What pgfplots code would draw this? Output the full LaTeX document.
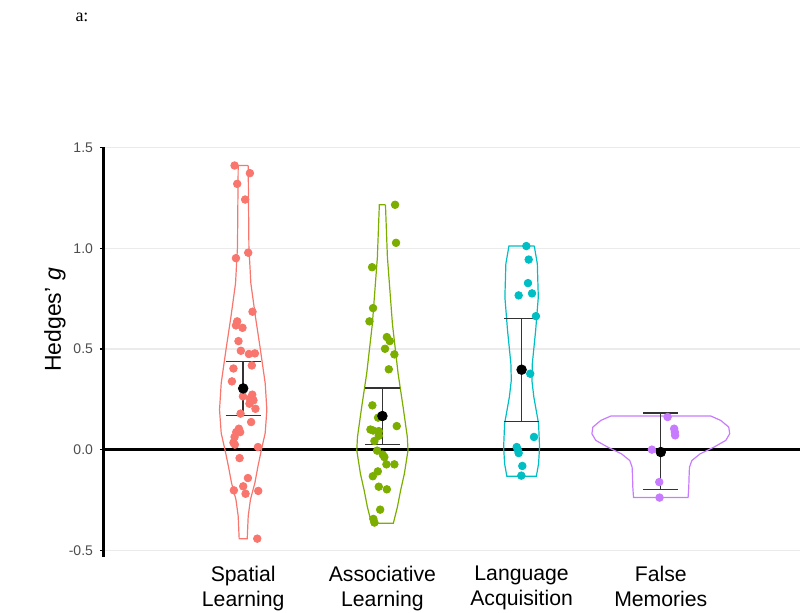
\documentclass[border=0pt]{standalone}
\usepackage{pgfplots}
\pgfplotsset{compat=1.18}
\usepackage{fontspec}
\setmainfont{Liberation Sans}
\newfontfamily\serifa{Liberation Serif}

\definecolor{cR}{HTML}{F8766D}
\definecolor{cG}{HTML}{7CAE00}
\definecolor{cC}{HTML}{00BFC4}
\definecolor{cP}{HTML}{C77CFF}
\definecolor{tickgray}{HTML}{4D4D4D}

\begin{document}
\begin{tikzpicture}
\path[use as bounding box] (-52pt,-28pt) rectangle (348pt,278.5pt);
\begin{axis}[scale only axis, width=348pt, height=205pt,
  xmin=0, xmax=5, ymin=-0.533, ymax=1.503,
  axis x line*=bottom, axis y line*=left,
  x axis line style={draw=none},
  y axis line style={-, line width=1.5pt},
  xtick={1,2,3,4},
  xticklabels={{Spatial\\Learning},{Associative\\Learning},{Language\\Acquisition},{False\\Memories}},
  xticklabel style={align=center, font=\fontsize{10.6}{12.3}\selectfont, yshift=1pt},
  xtick style={draw=none},
  ytick={-0.5,0,0.5,1,1.5},
  yticklabel style={font=\fontsize{7}{8}\selectfont, text=tickgray},
  /pgf/number format/assume math mode=true,
  /pgf/number format/.cd, fixed, fixed zerofill, precision=1, /pgfplots/.cd,
  ytick style={black, line width=0.6pt}, tick align=outside, major tick length=2pt,
  ymajorgrids, grid style={black!8, line width=0.6pt},
  clip=false]

% zero line
\addplot[black, line width=1.3pt] coordinates {(0,0) (5,0)};

% violins
\addplot[cR, line width=0.6pt] coordinates {
(1.036,1.411)(1.041,1.007)(1.055,0.826)(1.088,0.660)(1.124,0.495)(1.158,0.330)(1.170,0.198)(1.158,0.082)(1.131,0.000)(1.106,-0.083)(1.084,-0.165)(1.052,-0.248)(1.036,-0.330)(1.029,-0.442)
(0.971,-0.442)(0.964,-0.330)(0.948,-0.248)(0.916,-0.165)(0.894,-0.083)(0.869,0.000)(0.842,0.082)(0.830,0.198)(0.842,0.330)(0.876,0.495)(0.912,0.660)(0.945,0.826)(0.959,1.007)(0.964,1.411)(1.036,1.411)};
\addplot[cG, line width=0.6pt] coordinates {
(2.022,1.216)(2.036,0.956)(2.072,0.625)(2.113,0.377)(2.149,0.211)(2.179,0.063)(2.184,-0.003)(2.158,-0.119)(2.131,-0.202)(2.108,-0.284)(2.079,-0.365)
(1.921,-0.365)(1.892,-0.284)(1.869,-0.202)(1.842,-0.119)(1.816,-0.003)(1.821,0.063)(1.851,0.211)(1.887,0.377)(1.928,0.625)(1.964,0.956)(1.978,1.216)(2.022,1.216)};
\addplot[cC, line width=0.6pt] coordinates {
(3.091,1.011)(3.113,0.923)(3.120,0.757)(3.101,0.592)(3.077,0.427)(3.074,0.344)(3.088,0.261)(3.122,0.129)(3.129,0.013)(3.122,-0.070)(3.106,-0.132)
(2.894,-0.132)(2.878,-0.070)(2.871,0.013)(2.878,0.129)(2.912,0.261)(2.926,0.344)(2.923,0.427)(2.899,0.592)(2.880,0.757)(2.887,0.923)(2.909,1.011)(3.091,1.011)};
\addplot[cP, line width=0.6pt] coordinates {
(4.359,0.167)(4.431,0.145)(4.488,0.112)(4.495,0.079)(4.467,0.046)(4.383,0.013)(4.282,-0.021)(4.223,-0.054)(4.206,-0.087)(4.203,-0.137)(4.201,-0.186)(4.196,-0.238)
(3.804,-0.238)(3.799,-0.186)(3.797,-0.137)(3.794,-0.087)(3.777,-0.054)(3.718,-0.021)(3.617,0.013)(3.533,0.046)(3.505,0.079)(3.512,0.112)(3.569,0.145)(3.641,0.167)(4.359,0.167)};

% jittered points
\addplot[only marks, mark=*, mark size=1.9pt, cR, mark options={draw=none, fill=cR}] coordinates {
(0.938,1.411)(1.048,1.373)(0.957,1.320)(1.014,1.242)(0.948,0.951)(1.036,0.978)(1.067,0.685)(0.957,0.637)(0.948,0.617)(0.995,0.605)
(0.966,0.539)(0.983,0.491)(1.041,0.475)(1.084,0.478)(1.062,0.418)(0.930,0.403)(0.919,0.339)(0.998,0.265)(1.048,0.253)(1.074,0.245)
(1.088,0.203)(1.065,0.273)(1.045,0.228)(0.981,0.179)(1.057,0.137)(0.969,0.104)(0.950,0.087)(0.978,0.087)(0.938,0.063)(0.930,0.035)
(0.940,0.025)(1.106,0.013)(0.974,-0.042)(1.034,-0.141)(1.000,-0.182)(0.933,-0.202)(1.017,-0.219)(1.108,-0.205)(1.101,-0.442)};
\addplot[only marks, mark=*, mark size=1.9pt, cG, mark options={draw=none, fill=cG}] coordinates {
(2.091,1.216)(2.098,1.027)(1.926,0.906)(1.933,0.703)(1.907,0.637)(2.032,0.559)(2.053,0.539)(2.019,0.501)(2.086,0.473)(2.046,0.399)
(1.928,0.220)(1.969,0.159)(2.103,0.117)(1.914,0.100)(1.933,0.095)(1.974,0.092)(1.974,0.069)(1.943,0.043)(1.962,-0.005)(2.003,-0.025)
(2.014,-0.037)(2.029,-0.073)(2.086,-0.073)(1.967,-0.108)(1.931,-0.132)(1.974,-0.184)(2.032,-0.197)(1.984,-0.298)(1.935,-0.344)(1.943,-0.362)};
\addplot[only marks, mark=*, mark size=1.9pt, cC, mark options={draw=none, fill=cC}] coordinates {
(3.034,1.011)(3.051,0.944)(3.046,0.827)(2.979,0.766)(3.075,0.776)(3.103,0.663)(3.062,0.377)(3.089,0.063)(2.965,0.013)(2.974,-0.003)
(2.979,-0.017)(3.005,-0.081)(2.998,-0.129)};
\addplot[only marks, mark=*, mark size=1.9pt, cP, mark options={draw=none, fill=cP}] coordinates {
(4.049,0.162)(4.096,0.104)(4.101,0.087)(4.103,0.071)(3.936,0.000)(3.989,-0.161)(3.991,-0.238)};

% confidence intervals
\addplot[black!80, line width=0.7pt, unbounded coords=jump] coordinates {
(1,0.170)(1,0.438)(nan,nan)(0.874,0.438)(1.126,0.438)(nan,nan)(0.874,0.170)(1.126,0.170)(nan,nan)
(2,0.026)(2,0.306)(nan,nan)(1.874,0.306)(2.126,0.306)(nan,nan)(1.874,0.026)(2.126,0.026)(nan,nan)
(3,0.140)(3,0.652)(nan,nan)(2.874,0.652)(3.126,0.652)(nan,nan)(2.874,0.140)(3.126,0.140)(nan,nan)
(4,-0.199)(4,0.182)(nan,nan)(3.874,0.182)(4.126,0.182)(nan,nan)(3.874,-0.199)(4.126,-0.199)};

% means
\addplot[only marks, mark=*, mark size=2.4pt, black] coordinates {(1,0.304)(2,0.167)(3,0.397)(4,-0.012)};
\end{axis}
\node[rotate=90, font=\fontsize{11.5}{13}\selectfont] at (-24.5pt,118.5pt) {Hedges’ \textit{g}};
\node[font=\serifa\fontsize{9}{10}\selectfont] at (-11pt,270pt) {a:};
\end{tikzpicture}
\end{document}
